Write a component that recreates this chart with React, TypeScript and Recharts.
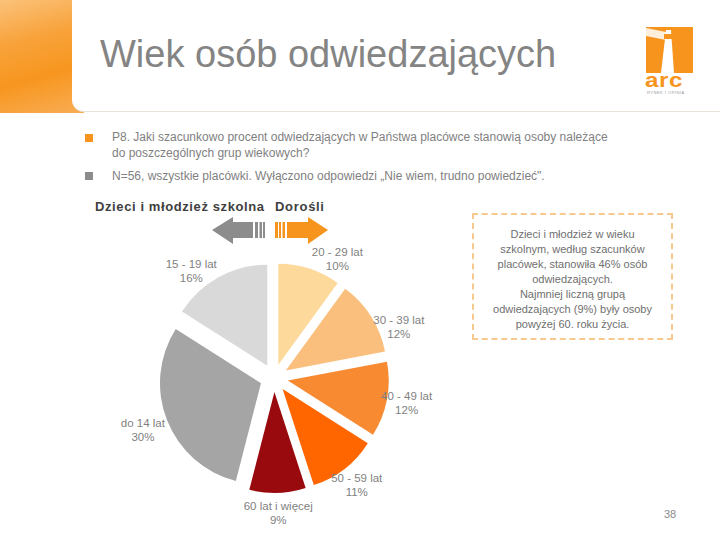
import { PieChart, Pie, Cell, Sector } from 'recharts'

// age groups, clockwise from 12 o'clock
const GROUPS = ['20 - 29 lat', '30 - 39 lat', '40 - 49 lat', '50 - 59 lat', '60 lat i więcej', 'do 14 lat', '15 - 19 lat']
const SHARES = [10, 12, 12, 11, 9, 30, 16]
const COLORS = ['#fdd99b', '#fbbf7d', '#f88a32', '#ff6600', '#990a0e', '#a5a5a5', '#d9d9d9']

const NOTE_LINES = [
  'Dzieci i młodzież w wieku',
  'szkolnym, według szacunków',
  'placówek, stanowiła 46% osób',
  'odwiedzających.',
  'Najmniej liczną grupą',
  'odwiedzających (9%) były osoby',
  'powyżej 60. roku życia.',
]

const data = GROUPS.map((name, i) => ({ name, value: SHARES[i] }))

const FONT = '"Liberation Sans", Arial, sans-serif'
const RAD = Math.PI / 180
const EXPLODE = 14

const ExplodedSector = (props: any) => {
  const { cx, cy, midAngle } = props
  const dx = EXPLODE * Math.cos(-midAngle * RAD)
  const dy = EXPLODE * Math.sin(-midAngle * RAD)
  return <Sector {...props} cx={cx + dx} cy={cy + dy} stroke="none" />
}

const renderLabel = (props: any) => {
  const { cx, cy, midAngle, outerRadius, name, value } = props
  // labels in the upper half are nudged away from the arrows at 12 o'clock
  let a = ((midAngle % 360) + 360) % 360
  if (a > 0 && a < 180) a += a < 90 ? -10 : 9
  const r = outerRadius + (a > 180 && a < 260 ? 40 : 34)
  const x = cx + r * Math.cos(-a * RAD)
  const y = cy + r * Math.sin(-a * RAD)
  return (
    <text x={x} y={y} textAnchor="middle" fill="#7f7f7f" fontSize={11.5} fontFamily={FONT}>
      <tspan x={x} y={y - 3}>{name}</tspan>
      <tspan x={x} y={y + 11}>{value}%</tspan>
    </text>
  )
}

export default function App() {
  return (
    <div style={{ position: 'fixed', left: 0, top: 0, width: 720, height: 540, background: '#fff', overflow: 'hidden', fontFamily: FONT }}>
      {/* header swoosh */}
      <div style={{ position: 'absolute', left: 0, top: 0, width: 84, height: 113, background: 'linear-gradient(165deg, #fbc27a 0%, #f8a23a 35%, #f7961f 65%, #f9ad55 100%)' }} />
      <div style={{ position: 'absolute', left: 72, top: 0, width: 660, height: 111, background: '#fff', borderBottomLeftRadius: 12, borderBottom: '1px solid #e9e2da' }} />
      <div style={{ position: 'absolute', left: 100, top: 33, fontSize: 38, color: '#848484', whiteSpace: 'nowrap' }}>Wiek osób odwiedzających</div>

      {/* logo */}
      <svg style={{ position: 'absolute', left: 640, top: 24 }} width={60} height={76}>
        <rect x={6} y={3} width={47} height={46} fill="#f7941d" />
        <polygon points="6,12 26,16 26,8 6,4" fill="#fff" opacity={0.85} />
        <polygon points="26,6 31,6 34,49 21,49" fill="#fff" />
        <rect x={24} y={10} width={9} height={5} fill="#f7941d" />
      </svg>
      <div style={{ position: 'absolute', left: 645, top: 70, fontSize: 21, lineHeight: '20px', fontWeight: 'bold', color: '#f7941d', letterSpacing: 0.5, transform: 'scaleX(1.15)', transformOrigin: 'left' }}>arc</div>
      <div style={{ position: 'absolute', left: 647, top: 90, fontSize: 4, lineHeight: '5px', color: '#999', letterSpacing: 0.5 }}>RYNEK I OPINIA</div>

      {/* question */}
      <div style={{ position: 'absolute', left: 85, top: 134, width: 8, height: 8, background: '#f7941d' }} />
      <div style={{ position: 'absolute', left: 85, top: 172, width: 8, height: 8, background: '#8c8c8c' }} />
      <div style={{ position: 'absolute', left: 112, top: 129, fontSize: 12, lineHeight: '16px', color: '#7f7f7f', width: 580, whiteSpace: 'nowrap' }}>
        P8. Jaki szacunkowo procent odwiedzających w Państwa placówce stanowią osoby należące
        <br />do poszczególnych grup wiekowych?
      </div>
      <div style={{ position: 'absolute', left: 112, top: 168, fontSize: 12, lineHeight: '16px', color: '#7f7f7f', whiteSpace: 'nowrap' }}>
        N=56, wszystkie placówki. Wyłączono odpowiedzi „Nie wiem, trudno powiedzieć".
      </div>

      {/* children / adults */}
      <div style={{ position: 'absolute', left: 95, top: 199, fontSize: 13, fontWeight: 'bold', color: '#404040', letterSpacing: 0.6, whiteSpace: 'nowrap' }}>Dzieci i młodzież szkolna</div>
      <div style={{ position: 'absolute', left: 275, top: 199, fontSize: 13, fontWeight: 'bold', color: '#404040', letterSpacing: 0.7 }}>Dorośli</div>
      <svg style={{ position: 'absolute', left: 0, top: 0 }} width={720} height={540}>
        <polygon points="212,230 233,217 233,222 265,222 265,238 233,238 233,244" fill="#8c8c8c" />
        <rect x={253} y={222} width={2} height={16} fill="#fff" />
        <rect x={258} y={222} width={1.5} height={16} fill="#fff" />
        <rect x={262} y={222} width={1} height={16} fill="#fff" />
        <polygon points="328,230 308,217 308,222 275,222 275,238 308,238 308,244" fill="#f7941d" />
        <rect x={278} y={222} width={1} height={16} fill="#fff" />
        <rect x={281} y={222} width={1.5} height={16} fill="#fff" />
        <rect x={285} y={222} width={2} height={16} fill="#fff" />
      </svg>

      {/* note box */}
      <div style={{ position: 'absolute', left: 472, top: 213, width: 197, height: 123, border: '2.5px dashed #f7c98f', boxSizing: 'content-box' }}>
        <div style={{ paddingTop: 12, textAlign: 'center', fontSize: 11, lineHeight: '15px', color: '#6f6f6f' }}>
          {NOTE_LINES.map(l => <div key={l}>{l}</div>)}
        </div>
      </div>

      <div style={{ position: 'absolute', left: 0, top: 0 }}>
        <PieChart width={720} height={540}>
          <Pie
            data={data}
            dataKey="value"
            nameKey="name"
            cx={269}
            cy={373}
            outerRadius={101}
            startAngle={90}
            endAngle={-270}
            shape={ExplodedSector}
            label={renderLabel}
            labelLine={false}
            isAnimationActive={false}
          >
            {data.map((d, i) => (
              <Cell key={d.name} fill={COLORS[i]} stroke="none" />
            ))}
          </Pie>
        </PieChart>
      </div>

      <div style={{ position: 'absolute', left: 664, top: 508, fontSize: 11, color: '#8c8c8c' }}>38</div>
    </div>
  )
}
